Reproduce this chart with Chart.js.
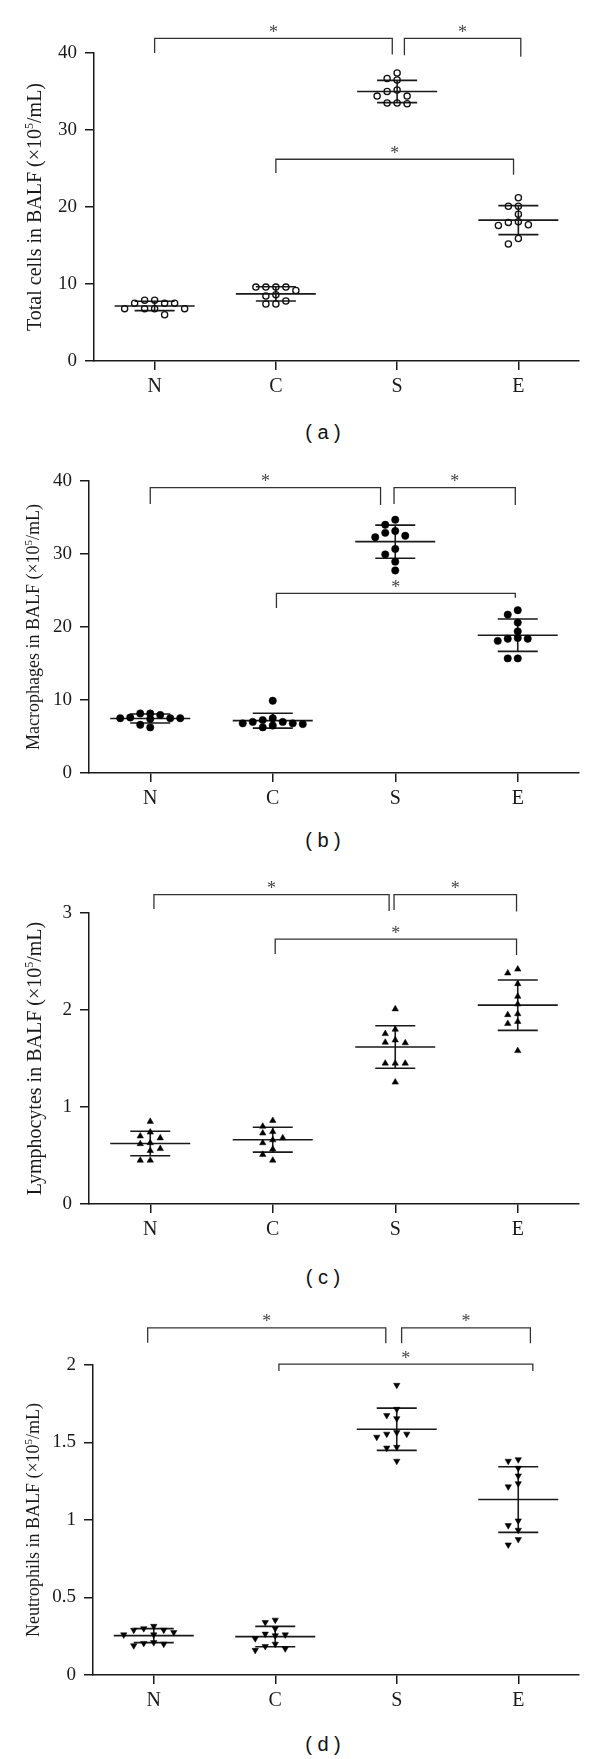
<!DOCTYPE html>
<html>
<head>
<meta charset="utf-8">
<script src="https://cdn.jsdelivr.net/npm/chart.js@4.4.1/dist/chart.umd.min.js"></script>
<style>
  html, body { margin: 0; padding: 0; background: #fff; }
  body { position: relative; width: 600px; height: 1759px; overflow: hidden; }
  canvas { position: absolute; left: 0; }
  .cap { position: absolute; left: 223px; width: 200px; text-align: center;
         font: 20px "Liberation Sans", Arial, sans-serif; color: #111; line-height: 22px; }
</style>
</head>
<body>
<canvas id="chartA"></canvas>
<div class="cap" style="top:421px">( a )</div>
<canvas id="chartB"></canvas>
<div class="cap" style="top:829px">( b )</div>
<canvas id="chartC"></canvas>
<div class="cap" style="top:1266px">( c )</div>
<canvas id="chartD"></canvas>
<div class="cap" style="top:1733px">( d )</div>
<script>
const groups = ['N', 'C', 'S', 'E'];

// (a) total cells
const totalN = [7.9, 7.9, 7.5, 7.5, 7.5, 6.8, 6.8, 6.8, 6.8, 6.0];
const totalC = [9.6, 9.6, 9.6, 9.6, 9.15, 8.6, 8.45, 7.8, 7.4, 7.4];
const totalS = [37.4, 36.7, 36.5, 35.2, 35.0, 34.4, 34.4, 33.5, 33.5, 33.4];
const totalE = [21.2, 20.1, 20.1, 19.05, 18.1, 18.0, 17.7, 17.6, 15.9, 15.2];
const totalTicks = [0, 10, 20, 30, 40];

// (b) macrophages
const macroN = [8.15, 8.15, 7.95, 7.6, 7.5, 7.5, 7.5, 7.4, 6.6, 6.25];
const macroC = [9.9, 7.5, 7.25, 7.0, 7.0, 6.8, 6.8, 6.7, 6.5, 6.25];
const macroS = [34.7, 34.0, 33.15, 32.9, 32.5, 32.3, 30.7, 29.95, 28.95, 27.75];
const macroE = [22.3, 21.7, 20.6, 19.4, 18.5, 18.4, 18.4, 18.1, 15.7, 15.7];
const macroTicks = [0, 10, 20, 30, 40];

// (c) lymphocytes
const lymphN = [0.85, 0.74, 0.70, 0.68, 0.63, 0.62, 0.57, 0.55, 0.45, 0.45];
const lymphC = [0.86, 0.80, 0.745, 0.73, 0.68, 0.66, 0.63, 0.565, 0.51, 0.45];
const lymphS = [2.01, 1.80, 1.755, 1.69, 1.666, 1.66, 1.45, 1.45, 1.45, 1.255];
const lymphE = [2.42, 2.38, 2.27, 2.14, 2.06, 1.96, 1.95, 1.88, 1.86, 1.58];
const lymphTicks = [0, 1, 2, 3];

// (d) neutrophils
const neutroN = [0.315, 0.30, 0.29, 0.29, 0.275, 0.26, 0.26, 0.21, 0.205, 0.20, 0.19];
const neutroC = [0.355, 0.34, 0.30, 0.265, 0.26, 0.255, 0.235, 0.20, 0.185, 0.17, 0.16];
const neutroS = [1.87, 1.715, 1.675, 1.655, 1.565, 1.555, 1.555, 1.535, 1.47, 1.465, 1.38];
const neutroE = [1.39, 1.38, 1.335, 1.285, 1.235, 1.215, 0.995, 0.965, 0.935, 0.875, 0.84];
const neutroTicks = [0, 0.5, 1, 1.5, 2];

// significance brackets: [from group, to group, top, left leg end, right leg end]
const bracketsA = [[0, 1.96, 41.9, 40.0, 39.8], [2.06, 3.02, 41.9, 39.7, 39.5], [1.0, 2.96, 26.2, 24.4, 24.2]];
const bracketsB = [[0, 1.88, 39.1, 36.85, 36.7], [1.99, 2.98, 39.1, 36.85, 36.7], [1.03, 2.98, 24.6, 22.6, 24.0]];
const bracketsC = [[0.03, 1.95, 3.19, 3.04, 3.02], [1.99, 2.99, 3.19, 3.03, 3.015], [1.02, 2.99, 2.73, 2.577, 2.567]];
const bracketsD = [[-0.05, 1.91, 2.24, 2.144, 2.14], [2.04, 3.1, 2.24, 2.14, 2.14], [1.03, 3.12, 2.006, 1.961, 1.961]];

const INK = '#1a1a1a';
const SERIF = '"Liberation Serif", "Times New Roman", serif';
const PLOT_RIGHT = 579;
const SLOT_PX = 10;

function mean(a) { return a.reduce((s, v) => s + v, 0) / a.length; }
function sd(a) {
    const m = mean(a);
    return Math.sqrt(a.reduce((s, v) => s + (v - m) * (v - m), 0) / (a.length - 1));
}

// spread points sideways so they don't sit on top of each other
function swarm(vals, pxPerUnit) {
    const order = vals.map((v, i) => i).sort((a, b) => vals[b] - vals[a]);
    const tries = [0, -1, 1, -2, 2, -3, 3];
    const placed = [];
    const slots = [];
    order.forEach(i => {
        const py = vals[i] * pxPerUnit;
        let best = 0, bestGap = -1;
        for (const s of tries) {
            const near = placed.filter(p => p.s === s).map(p => Math.abs(p.py - py));
            const gap = near.length ? Math.min.apply(null, near) : Infinity;
            if (gap >= 6.5) { best = s; bestGap = gap; break; }
            if (gap > bestGap + 0.01) { best = s; bestGap = gap; }
        }
        placed.push({ s: best, py: py });
        slots[i] = best;
    });
    return slots;
}

function decorations(p) {
    return {
        id: 'deco' + p.id,
        beforeDatasetsDraw(chart) {
            const ctx = chart.ctx, x = chart.scales.x, y = chart.scales.y;
            ctx.save();
            ctx.strokeStyle = INK;
            ctx.lineWidth = 1.6;
            p.values.forEach((vals, g) => {
                const m = mean(vals), s = sd(vals);
                const cx = x.getPixelForValue(g);
                const ym = y.getPixelForValue(m);
                const yt = y.getPixelForValue(m + s);
                const yb = y.getPixelForValue(m - s);
                ctx.beginPath();
                ctx.moveTo(cx - 40, ym); ctx.lineTo(cx + 40, ym);
                ctx.moveTo(cx - 20, yt); ctx.lineTo(cx + 20, yt);
                ctx.moveTo(cx - 20, yb); ctx.lineTo(cx + 20, yb);
                ctx.moveTo(cx, yt); ctx.lineTo(cx, yb);
                ctx.stroke();
            });
            ctx.restore();
        },
        afterDraw(chart) {
            const ctx = chart.ctx, x = chart.scales.x, y = chart.scales.y, area = chart.chartArea;
            ctx.save();
            // brackets with stars
            ctx.strokeStyle = '#333';
            ctx.lineWidth = 1.3;
            ctx.fillStyle = '#444';
            ctx.font = '18px ' + SERIF;
            ctx.textAlign = 'center';
            ctx.textBaseline = 'alphabetic';
            p.brackets.forEach(b => {
                const x1 = x.getPixelForValue(b[0]), x2 = x.getPixelForValue(b[1]);
                const yt = y.getPixelForValue(b[2]);
                ctx.beginPath();
                ctx.moveTo(x1, y.getPixelForValue(b[3]));
                ctx.lineTo(x1, yt);
                ctx.lineTo(x2, yt);
                ctx.lineTo(x2, y.getPixelForValue(b[4]));
                ctx.stroke();
                const mt = ctx.measureText('*');
                const off = (mt.actualBoundingBoxAscent - mt.actualBoundingBoxDescent) / 2;
                ctx.fillText('*', (x1 + x2) / 2, yt - 10 + off);
            });
            // y axis title with superscript
            const f = p.titleSize;
            const head = p.title + ' (\u00d710', sup = '5', tail = '/mL)';
            ctx.fillStyle = INK;
            ctx.textAlign = 'left';
            ctx.font = f + 'px ' + SERIF;
            const w1 = ctx.measureText(head).width, w3 = ctx.measureText(tail).width;
            ctx.font = Math.round(f * 0.62) + 'px ' + SERIF;
            const w2 = ctx.measureText(sup).width;
            ctx.translate(p.titleX, (area.top + area.bottom) / 2);
            ctx.rotate(-Math.PI / 2);
            let sx = -(w1 + w2 + w3) / 2;
            const base = f * 0.33;
            ctx.font = f + 'px ' + SERIF;
            ctx.fillText(head, sx, base);
            sx += w1;
            ctx.font = Math.round(f * 0.62) + 'px ' + SERIF;
            ctx.fillText(sup, sx, base - f * 0.38);
            sx += w2;
            ctx.font = f + 'px ' + SERIF;
            ctx.fillText(tail, sx, base);
            ctx.restore();
        }
    };
}

const panels = [
    { id: 'chartA', title: 'Total cells in BALF', values: [totalN, totalC, totalS, totalE], ticks: totalTicks,
      brackets: bracketsA, canvasTop: 0, plotTop: 53, plotBottom: 361, left: 94, titleX: 34, titleSize: 20,
      marker: { pointStyle: 'circle', pointRadius: 3.1, pointBorderWidth: 1.3, pointBorderColor: '#111', pointBackgroundColor: 'rgba(255,255,255,0)' } },
    { id: 'chartB', title: 'Macrophages in BALF', values: [macroN, macroC, macroS, macroE], ticks: macroTicks,
      brackets: bracketsB, canvasTop: 430, plotTop: 481, plotBottom: 773, left: 89, titleX: 33, titleSize: 18,
      marker: { pointStyle: 'circle', pointRadius: 3.7, pointBorderWidth: 0.5, pointBorderColor: '#000', pointBackgroundColor: '#000' } },
    { id: 'chartC', title: 'Lymphocytes in BALF', values: [lymphN, lymphC, lymphS, lymphE], ticks: lymphTicks,
      brackets: bracketsC, canvasTop: 860, plotTop: 913, plotBottom: 1204, left: 89, titleX: 34, titleSize: 20,
      marker: { pointStyle: 'triangle', pointRadius: 3.7, pointBorderWidth: 0.5, pointBorderColor: '#000', pointBackgroundColor: '#000' } },
    { id: 'chartD', title: 'Neutrophils in BALF', values: [neutroN, neutroC, neutroS, neutroE], ticks: neutroTicks,
      brackets: bracketsD, canvasTop: 1290, plotTop: 1365, plotBottom: 1675, left: 93, titleX: 33, titleSize: 18,
      marker: { pointStyle: 'triangle', pointRotation: 180, pointRadius: 3.7, pointBorderWidth: 0.5, pointBorderColor: '#000', pointBackgroundColor: '#000' } }
];

function makeChart(p) {
    const canvas = document.getElementById(p.id);
    canvas.width = 600;
    canvas.height = p.plotBottom - p.canvasTop + 40;
    canvas.style.top = p.canvasTop + 'px';
    const yMax = p.ticks[p.ticks.length - 1];
    const pxPerUnit = (p.plotBottom - p.plotTop) / yMax;
    const catPx = (PLOT_RIGHT - p.left) / groups.length;
    const points = [];
    p.values.forEach((vals, g) => {
        const slots = swarm(vals, pxPerUnit);
        vals.forEach((v, i) => points.push({ x: g + slots[i] * SLOT_PX / catPx, y: v }));
    });

    new Chart(canvas, {
        type: 'scatter',
        data: {
            datasets: [Object.assign({ data: points, showLine: false }, p.marker)]
        },
        options: {
            responsive: false,
            animation: false,
            events: [],
            layout: { padding: { top: p.plotTop - p.canvasTop, right: 600 - PLOT_RIGHT, bottom: 0, left: 0 } },
            scales: {
                x: {
                    type: 'linear',
                    min: -0.5,
                    max: groups.length - 0.5,
                    afterBuildTicks: s => { s.ticks = groups.map((g, i) => ({ value: i })); },
                    afterFit: s => { s.height = 40; },
                    ticks: {
                        callback: v => groups[v],
                        autoSkip: false,
                        maxRotation: 0,
                        padding: 5,
                        color: INK,
                        font: { family: SERIF, size: 20 }
                    },
                    grid: { drawOnChartArea: false, drawTicks: true, tickLength: 9, color: INK, lineWidth: 1.5 },
                    border: { color: INK, width: 1.5 }
                },
                y: {
                    min: 0,
                    max: yMax,
                    afterBuildTicks: s => { s.ticks = p.ticks.map(v => ({ value: v })); },
                    afterFit: s => { s.width = p.left; },
                    ticks: {
                        callback: v => String(v),
                        padding: 8,
                        color: INK,
                        font: { family: SERIF, size: 19 }
                    },
                    grid: { drawOnChartArea: false, drawTicks: true, tickLength: 9, color: INK, lineWidth: 1.5 },
                    border: { color: INK, width: 1.5 }
                }
            },
            plugins: {
                legend: { display: false },
                tooltip: { enabled: false }
            }
        },
        plugins: [decorations(p)]
    });
}

panels.forEach(makeChart);
</script>
</body>
</html>
